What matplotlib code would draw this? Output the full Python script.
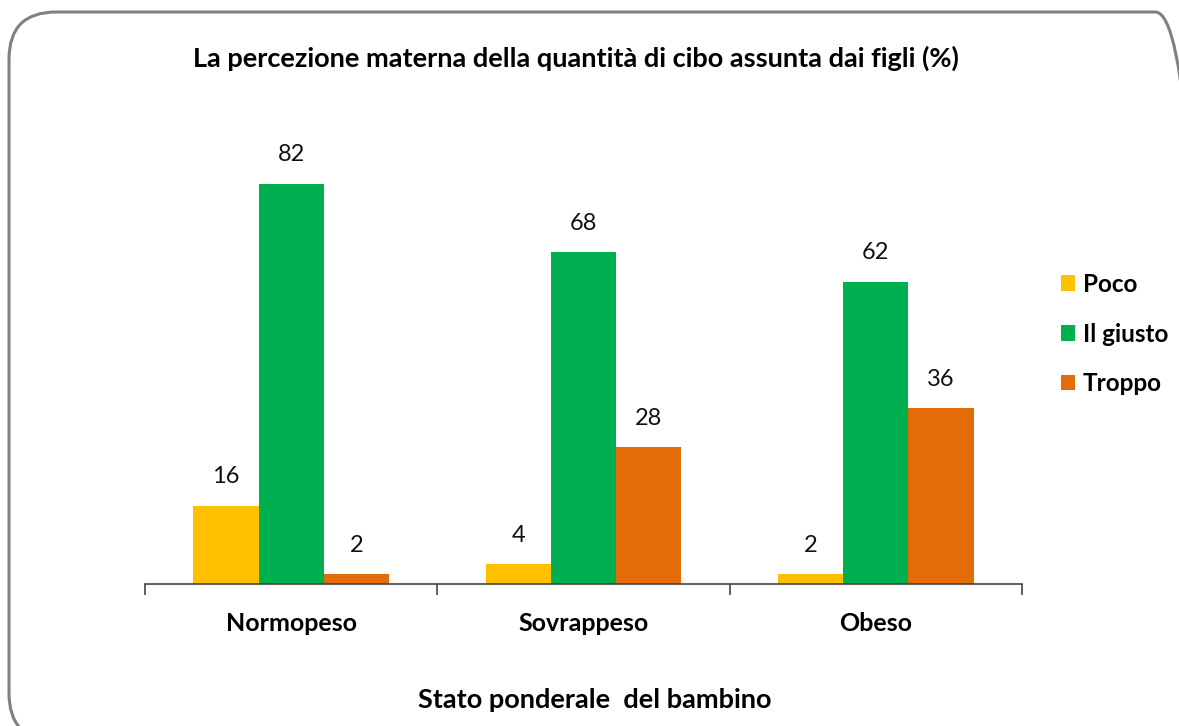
import matplotlib
matplotlib.use("Agg")
import matplotlib.pyplot as plt
import numpy as np
from matplotlib.patches import FancyBboxPatch

categories = ["Normopeso", "Sovrappeso", "Obeso"]
series_names = ["Poco", "Il giusto", "Troppo"]
poco = [16, 4, 2]
giusto = [82, 68, 62]
troppo = [2, 28, 36]
colors = ["#FFC000", "#00B050", "#E36C09"]

plt.rcParams['font.family'] = ['Lato', 'DejaVu Sans']

fig = plt.figure(figsize=(11.79, 7.26), dpi=100)
fig.patch.set_facecolor("white")
border = FancyBboxPatch((9/1179, 0.0 - 0.02), (1179 - 9) / 1179 + 0.02, 1 - 12/726 + 0.02,
                        boxstyle="round,pad=0,rounding_size=0.04", transform=fig.transFigure,
                        facecolor="none", edgecolor="#808080", linewidth=2.2, zorder=-5,
                        mutation_aspect=1179/726)
fig.patches.append(border)

ax = fig.add_axes([145/1179, 1 - 584/726, (1022 - 145)/1179, (584 - 145)/726])
ax.set_facecolor("none")
x = np.arange(len(categories))
w = 0.223
for i, (vals, name, c) in enumerate(zip([poco, giusto, troppo], series_names, colors)):
    bars = ax.bar(x + (i - 1) * w, vals, w, color=c, label=name)
    for b, v in zip(bars, vals):
        ax.text(b.get_x() + b.get_width()/2, v + 3.8, str(v), ha="center", va="bottom",
                fontsize=17, color="#111111")

ax.set_xlim(-0.5, 2.5)
ax.set_ylim(0, 90)
ax.set_yticks([])
for s in ["top", "right", "left"]:
    ax.spines[s].set_visible(False)
ax.spines["bottom"].set_color("#444444")
ax.spines["bottom"].set_linewidth(1.2)
ax.set_xticks([-0.5, 0.5, 1.5, 2.5])
ax.set_xticklabels([])
ax.tick_params(axis="x", length=8, width=1.2, color="#444444", direction="out")
for xi, cat in zip(x, categories):
    ax.text(xi, -8.2, cat, ha="center", va="center", fontsize=18, fontweight="bold",
            transform=ax.transData)

fig.text(576/1179, 1 - 58/726, "La percezione materna della quantità di cibo assunta dai figli (%)",
         ha="center", va="center", fontsize=19.5, fontweight="bold")
fig.text(595/1179, 1 - 700/726, "Stato ponderale  del bambino", ha="center", va="center",
         fontsize=19.5, fontweight="bold")

leg = fig.legend(loc="center left", bbox_to_anchor=(1056/1179, 1 - 334/726), frameon=False,
                 prop={"size": 17.5, "weight": "bold"}, handlelength=0.6, handleheight=0.6,
                 handletextpad=0.3, labelspacing=1.1, borderaxespad=0, borderpad=0.2)

fig.savefig("out.png", dpi=100)
